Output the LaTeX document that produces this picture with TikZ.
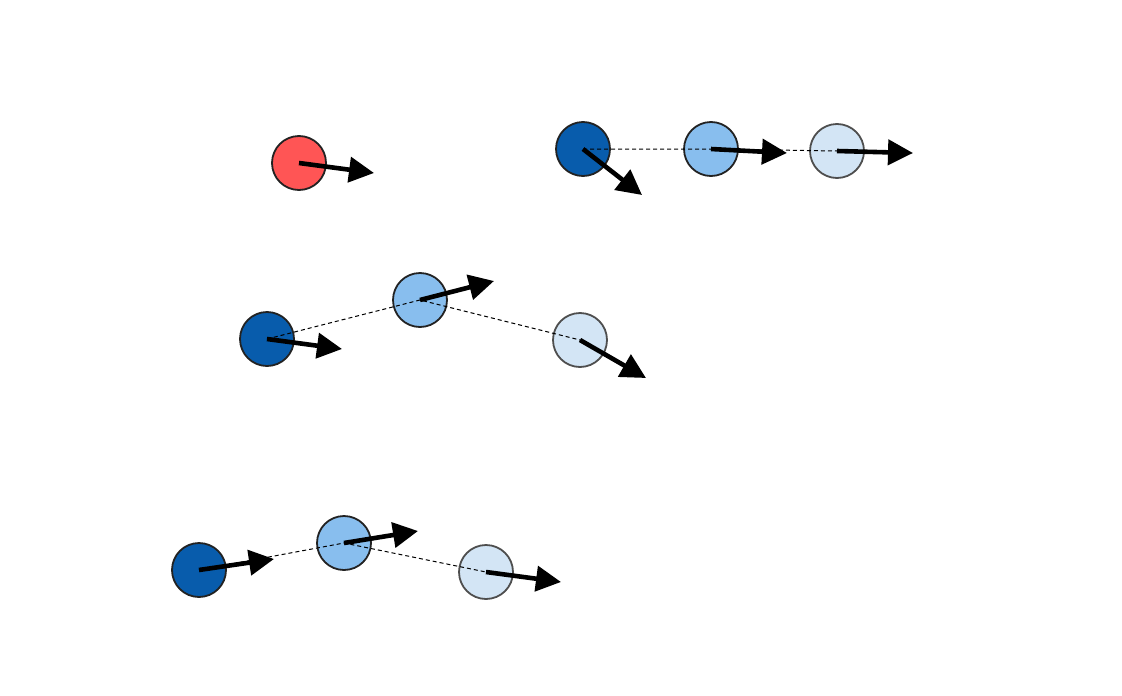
\documentclass[tikz,border=0pt]{standalone}
\usetikzlibrary{arrows.meta}
\definecolor{cred}{HTML}{FF5555}
\definecolor{cdark}{HTML}{085CAC}
\definecolor{cmid}{HTML}{88BEEE}
\definecolor{clight}{HTML}{D3E5F5}
\definecolor{cedge}{HTML}{222222}
\tikzset{
  ball/.style={circle, draw=cedge, line width=1.8pt, minimum size=54pt, inner sep=0pt},
  vel/.style={line width=4.6pt, -{Triangle[length=25pt, width=25pt]}},
  trail/.style={dashed, line width=1pt, dash pattern=on 4pt off 3pt}
}
\begin{document}
\begin{tikzpicture}[x=1pt, y=-1pt]
\useasboundingbox (0,0) rectangle (1122,696);
% red
\node[ball, fill=cred] (r) at (299,163) {};
\coordinate (rt) at (374,173);
\draw[vel] (r.center) -- (rt);
% top row
\node[ball, fill=cdark] (a1) at (583,149) {};
\node[ball, fill=cmid] (a2) at (711,149) {};
\node[ball, fill=clight, draw=cedge!80] (a3) at (837,151) {};
\draw[trail] (a1.center) -- (a2.center) -- (a3.center);
\coordinate (a1t) at (642,195);
\coordinate (a2t) at (787,153);
\coordinate (a3t) at (913,153);
\draw[vel] (a1.center) -- (a1t);
\draw[vel] (a2.center) -- (a2t);
\draw[vel] (a3.center) -- (a3t);
% middle row
\node[ball, fill=cdark] (b1) at (267,339) {};
\node[ball, fill=cmid] (b2) at (420,300) {};
\node[ball, fill=clight, draw=cedge!80] (b3) at (580,340) {};
\draw[trail] (b1.center) -- (b2.center) -- (b3.center);
\coordinate (b1t) at (342,349);
\coordinate (b2t) at (494,281);
\coordinate (b3t) at (646,378);
\draw[vel] (b1.center) -- (b1t);
\draw[vel] (b2.center) -- (b2t);
\draw[vel] (b3.center) -- (b3t);
% bottom row
\node[ball, fill=cdark] (c1) at (199,570) {};
\node[ball, fill=cmid] (c2) at (344,543) {};
\node[ball, fill=clight, draw=cedge!80] (c3) at (486,572) {};
\draw[trail] (c1.center) -- (c2.center) -- (c3.center);
\coordinate (c1t) at (274,559);
\coordinate (c2t) at (418,531);
\coordinate (c3t) at (561,582);
\draw[vel] (c1.center) -- (c1t);
\draw[vel] (c2.center) -- (c2t);
\draw[vel] (c3.center) -- (c3t);
\end{tikzpicture}
\end{document}
